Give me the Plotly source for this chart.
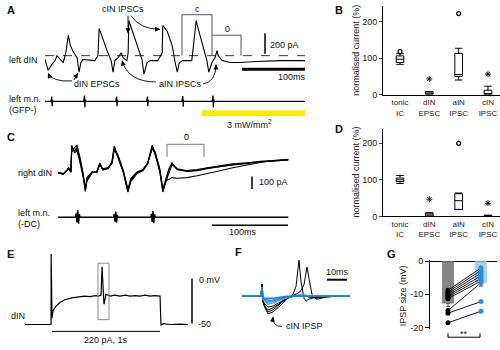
import math
import plotly.graph_objects as go

W, H = 500, 350
FONT = "Liberation Sans, Arial, sans-serif"

A_time = [0, 5, 11, 16, 19, 24, 29, 33, 37, 40, 44, 51, 54, 57, 60, 79, 84, 86, 90, 98,
          105, 108, 111, 116, 121, 124, 130, 132, 133, 138, 146, 154, 157, 162, 167, 179,
          186, 187, 194, 202, 206, 210, 213, 219, 233, 236, 240, 243, 251, 257, 260, 265,
          270, 273, 275, 281, 294, 309, 336, 373, 413]
A_current = [-36, -137, -82, -46, 0, -36, -64, 27, 191, 100, 46, -18, -155, -64, -36, -46, 0,
             255, 182, 55, -46, -155, -46, -18, 27, -18, -46, 27, 328, 237, 91, -36, -173,
             -64, -46, -46, 27, 282, 228, 91, -46, -155, -64, -46, -46, 118, 328, 255, 91,
             -46, -155, -64, -18, 46, 0, -46, -64, -64, -55, -46, -46]
A_mn_spike_times = [11, 63, 114, 163, 219, 267]
A_mn_spike_amp = [1.0, 1.2, 1.0, 1.0, 1.1, 1.2]
MN_dt = [-1.6, -0.8, -0.3, 0.3, 0.8, 1.6]
MN_shape = [0, 0.4, 1.0, -1.0, 0.3, 0]

B_cats = ["tonic<br>IC", "dIN<br>EPSC", "aIN<br>IPSC", "cIN<br>IPSC"]
B_q1 = [88, 1, 50, 0]
B_med = [97, 4, 55, 3]
B_q3 = [106, 8, 113, 12]
B_lo = [83, 0, 40, 0]
B_hi = [112, 8, 127, 23]
B_out_x = [0, 2]
B_out_y = [118, 222]
B_star_x = [1, 3]
B_star_y = [43, 56]

C_time = [0, 7, 12, 14, 17, 18, 22, 25, 29, 33, 36, 38, 45, 51, 55, 59, 66, 71, 74, 79, 86,
          92, 96, 104, 112, 118, 124, 128, 134, 138, 142, 146, 150, 157, 170, 183, 196, 213,
          230, 248, 266, 285, 303]
C_sweep1 = [0, -15, 23, 38, 8, 216, 154, 180, 77, -31, -146, -54, 8, 0, 77, 23, 38, 85, 200,
            123, 0, -154, -54, 0, 23, 77, 216, 139, 8, -154, -54, 23, 77, 23, 8, 15, 31, 46,
            62, 70, 85, 92, 100]
C_sweep2 = [0, -8, 15, 30, 0, 160, 200, 216, 120, 0, -130, -70, 0, 8, 60, 30, 40, 70, 190,
            140, 15, -140, -70, -8, 15, 70, 200, 160, 30, -140, -70, 0, 60, 30, 15, 23, 38,
            54, 70, 77, 85, 95, 100]
C_sweep3 = [0, -10, 20, 30, 10, 200, 170, 200, 90, -20, -150, -60, 0, 5, 70, 20, 30, 80, 210,
            130, 5, -150, -60, 0, 20, 70, 210, 150, 10, -150, -60, -54, -40, -45, -40, -25,
            -10, 15, 38, 60, 80, 95, 105]
C_sweep4 = [0, -12, 18, 35, 5, 180, 190, 170, 100, -10, -120, -40, 5, 0, 70, 25, 35, 75, 180,
            130, 10, -130, -45, 5, 25, 75, 190, 150, 20, -130, -50, 30, 70, 25, 12, 18, 35,
            50, 65, 75, 90, 98, 102]
C_mn_spike_times = [26, 76, 125]
C_mn_spike_amp = [1.1, 0.9, 1.0]
CMN_dt = [-3, -2, -1, 0, 1, 2, 3]
CMN_shape = [0, 0.6, -0.8, 1.1, -1.0, 0.5, 0]

D_q1 = [95, 1, 19, 0]
D_med = [100, 4, 43, 1]
D_q3 = [105, 9, 62, 3]
D_lo = [90, 0, 19, 0]
D_hi = [112, 10, 64, 3]
D_out_x = [2]
D_out_y = [200]
D_star_x = [1, 3]
D_star_y = [47, 36]

E_time = [-250, -9, -8, 0, 9, 37, 74, 120, 185, 259, 300, 352, 400, 426, 454, 463, 472, 481,
          500, 537, 580, 630, 680, 722, 770, 815, 860, 907, 950, 1000, 1009, 1028, 1100, 1180,
          1259]
E_vm = [-50, -50, 27, -43, -35, -30, -26, -23, -21, -20, -19, -19.5, -18.5, -19, -18, 13, -19,
        -28, -17, -19, -18, -19, -18, -19, -18.5, -19, -18, -19, -18.5, -19, -51, -49, -50,
        -49.5, -50]

F_time = [-10, -2, -0.5, 0, 0.5, 1.5, 3, 5.5, 9, 12.5, 15.5, 17, 18, 18.5, 19.5, 21, 22, 22.5,
          23.5, 25, 27, 29, 32, 36.5, 44]
F_black = [
    [0, 0, 0, 12, -6, -12, -18, -16, -10, -3, 2, 10, 30, 37, 15, -2, -5, -4, -3, -2, -1, -1, 0, 0, 0],
    [0, 0, 0, 12, -6, -11, -16, -14, -8, -2, 1, 2, 3, 4, 6, 12, 22, 30, 18, 2, -3, -2, -1, 0, 0],
    [0, 0, 0, 12, -5, -10, -14, -12, -7, -2, 0, 1, 1, 1, 1, 1, 0, 0, -1, -1, -2, -1, 0, 0, 0],
    [0, 0, 0, 12, -5, -8, -11, -10, -6, -2, 0, 0, 1, 1, 1, 1, 1, 0, 0, 0, -1, 0, 0, 0, 0],
]
F_blue = [
    [0, 0, 0, 9, -3, -5, -8, -7, -4, -1, 0, 0, 1, 1, 1, 1, 1, 0, 0, 0, 0, 0, 0, 0, 0],
    [0, 0, 0, 9, -3, -4, -6, -5, -3, -1, 0, 0, 0, 1, 1, 1, 0, 0, 0, 0, 0, 0, 0, 0, 0],
    [0, 0, 0, 9, -2, -3, -4, -4, -2, -1, 0, 0, 0, 0, 0, 0, 0, 0, 0, 0, 0, 0, 0, 0, 0],
    [0, 0, 0, 9, -2, -2, -2, -2, -1, 0, 0, 0, 0, 0, 0, 0, 0, 0, 0, 0, 0, 0, 0, 0, 0],
]
F_blue_colors = ["#5aaeea", "#3a9de6", "#2290e0", "#1b80d4"]

G_bar = [-12.8, -6.6]
G_err = [0.9, 0.9]
G_control = [-8.8, -9.3, -9.8, -10.3, -10.8, -11.3, -14.9, -15.7, -18.6]
G_light = [-2.0, -2.8, -3.6, -4.4, -5.2, -6.0, -6.5, -12.2, -15.1]
G_ticks = [0, -10, -20]
G_ticklabels = ["0", "-10", "-20"]


def px_x(a, b):
    return [a / W, b / W]


def px_y(top, bottom):
    return [1 - bottom / H, 1 - top / H]


fig = go.Figure()


def line(x, y, ax, color="black", width=1.1):
    fig.add_trace(go.Scatter(x=x, y=y, mode="lines", line=dict(color=color, width=width),
                             xaxis="x" + ax, yaxis="y" + ax, hoverinfo="skip"))


def build_mn(times, amps, dt, shape, t_end):
    xs, ys = [0], [0]
    for st, a in zip(times, amps):
        for d, v in zip(dt, shape):
            xs.append(st + d)
            ys.append(a * v)
    xs.append(t_end)
    ys.append(0)
    return xs, ys


line(A_time, A_current, "", width=1.1)
mx, my = build_mn(A_mn_spike_times, A_mn_spike_amp, MN_dt, MN_shape, 413)
line(mx, my, "2", width=1.3)

for ax, q1, med, q3, lo, hi, ox, oy, sx, sy in [
        ("3", B_q1, B_med, B_q3, B_lo, B_hi, B_out_x, B_out_y, B_star_x, B_star_y),
        ("6", D_q1, D_med, D_q3, D_lo, D_hi, D_out_x, D_out_y, D_star_x, D_star_y)]:
    fig.add_trace(go.Box(x=[0, 1, 2, 3], q1=q1, median=med, q3=q3, lowerfence=lo,
                         upperfence=hi, width=0.26, whiskerwidth=1, boxpoints=False,
                         line=dict(color="black", width=1), fillcolor="white",
                         xaxis="x" + ax, yaxis="y" + ax, hoverinfo="skip"))
    fig.add_trace(go.Scatter(x=ox, y=oy, mode="markers",
                             marker=dict(symbol="circle-open", size=4, color="black",
                                         line=dict(width=1.2, color="black")),
                             xaxis="x" + ax, yaxis="y" + ax, hoverinfo="skip"))
    fig.add_trace(go.Scatter(x=sx, y=sy, mode="markers",
                             marker=dict(symbol="asterisk-open", size=5, color="black",
                                         line=dict(width=0.9, color="black")),
                             xaxis="x" + ax, yaxis="y" + ax, hoverinfo="skip"))

for sw in [C_sweep1, C_sweep2, C_sweep3, C_sweep4]:
    line(C_time, sw, "4", width=1.1)
cx, cy = build_mn(C_mn_spike_times, C_mn_spike_amp, CMN_dt, CMN_shape, 303)
line(cx, cy, "5", width=1.5)

line(E_time, E_vm, "7", width=1.2)

for tr in F_black:
    line(F_time, tr, "8", width=1.0)
for tr, c in zip(F_blue, F_blue_colors):
    line(F_time, tr, "8", color=c, width=1.6)

fig.add_trace(go.Bar(x=[0, 1], y=G_bar, width=0.36,
                     marker=dict(color=["#858585", "#a6d0f2"], line=dict(width=0)),
                     error_y=dict(type="data", symmetric=False, array=[0, 0],
                                  arrayminus=G_err, color="#555", thickness=1, width=2),
                     xaxis="x9", yaxis="y9", hoverinfo="skip"))
for c, l in zip(G_control, G_light):
    fig.add_trace(go.Scatter(x=[0, 1], y=[c, l], mode="lines+markers",
                             line=dict(color="black", width=0.9),
                             marker=dict(size=5, color=["black", "#2a8edb"]),
                             xaxis="x9", yaxis="y9", hoverinfo="skip"))

fig.add_trace(go.Scatter(x=[None], y=[None], xaxis="x10", yaxis="y10", hoverinfo="skip"))

hidden = dict(visible=False, showgrid=False, zeroline=False, fixedrange=True)
axcol = dict(showline=True, linecolor="black", linewidth=1, showgrid=False, zeroline=False,
             fixedrange=True)

layout = dict(
    width=W, height=H, margin=dict(l=0, r=0, t=0, b=0), showlegend=False,
    paper_bgcolor="white", plot_bgcolor="rgba(0,0,0,0)",
    font=dict(family=FONT, size=9, color="#222"),
    xaxis=dict(hidden, domain=px_x(45, 305), range=[0, 412.7], anchor="y"),
    yaxis=dict(hidden, domain=px_y(5, 75), range=[-200, 437], anchor="x"),
    xaxis2=dict(hidden, domain=px_x(45, 305), range=[0, 412.7], anchor="y2"),
    yaxis2=dict(hidden, domain=px_y(90, 110), range=[-2, 2], anchor="x2"),
    xaxis3=dict(axcol, domain=px_x(383, 500), range=[-0.58, 3.41], anchor="y3", ticks="",
                tickvals=[0, 1, 2, 3], ticktext=B_cats, tickfont=dict(size=8)),
    yaxis3=dict(axcol, domain=px_y(2, 93), range=[0, 243], anchor="x3", ticks="outside",
                ticklen=3, tickvals=[0, 100, 200], tickfont=dict(size=9)),
    xaxis4=dict(hidden, domain=px_x(58, 290), range=[0, 305.3], anchor="y4"),
    yaxis4=dict(hidden, domain=px_y(135, 200), range=[-208, 293], anchor="x4"),
    xaxis5=dict(hidden, domain=px_x(58, 290), range=[0, 305.3], anchor="y5"),
    yaxis5=dict(hidden, domain=px_y(209, 229), range=[-1.67, 1.67], anchor="x5"),
    xaxis6=dict(axcol, domain=px_x(383, 500), range=[-0.58, 3.41], anchor="y6", ticks="",
                tickvals=[0, 1, 2, 3], ticktext=B_cats, tickfont=dict(size=8)),
    yaxis6=dict(axcol, domain=px_y(128, 218), range=[0, 240], anchor="x6", ticks="outside",
                ticklen=3, tickvals=[0, 100, 200], tickfont=dict(size=9)),
    xaxis7=dict(hidden, domain=px_x(25, 200), range=[-250, 1370], anchor="y7"),
    yaxis7=dict(hidden, domain=px_y(250, 350), range=[-72.4, 34], anchor="x7"),
    xaxis8=dict(hidden, domain=px_x(240, 352), range=[-11, 45], anchor="y8"),
    yaxis8=dict(hidden, domain=px_y(255, 335), range=[-35, 45], anchor="x8"),
    xaxis9=dict(domain=px_x(430, 497), range=[-0.545, 1.485], anchor="y9",
                showline=False, showgrid=False, zeroline=False, ticks="",
                showticklabels=False, fixedrange=True),
    yaxis9=dict(axcol, domain=px_y(263, 334), range=[-20.6, 0.3], anchor="x9",
                ticks="outside", ticklen=4, tickwidth=1, tickcolor="black",
                tickmode="array", tickvals=G_ticks, ticktext=G_ticklabels,
                showticklabels=True, tickfont=dict(size=9, color="#111"),
                zeroline=True, zerolinecolor="black", zerolinewidth=1),
    xaxis10=dict(hidden, domain=[0, 1], range=[0, W], anchor="y10"),
    yaxis10=dict(hidden, domain=[0, 1], range=[H, 0], anchor="x10"),
)

shapes = []
shapes.append(dict(type="line", xref="x", yref="y", x0=0, x1=412.7, y0=0, y1=0,
                   line=dict(color="black", width=0.8, dash="dash")))


def pxline(x0, y0, x1, y1, w=1.5, color="black"):
    shapes.append(dict(type="line", xref="x10", yref="y10", x0=x0, y0=y0, x1=x1, y1=y1,
                       line=dict(color=color, width=w)))


def pxpath(path, w=1, color="black"):
    shapes.append(dict(type="path", xref="x10", yref="y10", path=path,
                       line=dict(color=color, width=w)))


pxline(265, 30, 265, 51, 1.5)
pxline(242, 67, 305, 67, 3)
pxline(252, 177, 252, 190, 1.5)
pxline(212, 227, 288, 227, 1.5)
pxline(192, 282, 192, 328, 1.5)
pxline(52, 336, 160, 336, 1)
pxline(327, 283, 347, 283, 2)
pxpath("M182,53 L182,11 L212,11 L212,53", 1, "#555")
pxpath("M212,32 L241,32 L241,53", 1, "#555")
pxpath("M167,157 L167,144 L204,144 L204,157", 1, "#777")
pxpath("M448,338 L448,342 L480,342 L480,338", 1, "black")
shapes.append(dict(type="rect", xref="x10", yref="y10", x0=98, x1=109, y0=266, y1=324,
                   line=dict(color="#888", width=1)))
shapes.append(dict(type="rect", xref="x10", yref="y10", x0=202, x1=305, y0=109, y1=115,
                   fillcolor="#fbe90c", line=dict(width=0)))

annotations = []
curves = [
    (128, 12, 128, 20, 128, 30),
    (131, 12, 140, 26, 160, 26),
    (72, 79, 52, 80, 48, 71),
    (74, 78, 76, 74, 78, 71),
    (156, 80, 128, 80, 122, 58),
    (203, 82, 216, 80, 216, 62),
    (282, 331, 272, 331, 273, 321),
]
for x0, y0, qx, qy, x1, y1 in curves:
    pxpath(f"M{x0},{y0} Q{qx},{qy} {x1},{y1}", 0.9, "black")
    dx, dy = x1 - qx, y1 - qy
    n = math.hypot(dx, dy) or 1
    annotations.append(dict(xref="x10", yref="y10", axref="x10", ayref="y10", x=x1, y=y1,
                            ax=x1 - 4 * dx / n, ay=y1 - 4 * dy / n, text="", showarrow=True,
                            arrowhead=2, arrowsize=1, arrowwidth=1, arrowcolor="black",
                            standoff=0))

texts = [
    ("<b>A</b>", 5, 6, "left", 11), ("<b>B</b>", 333, 6, "left", 11),
    ("<b>C</b>", 5, 136, "left", 11), ("<b>D</b>", 333, 128, "left", 11),
    ("<b>E</b>", 5, 257, "left", 11), ("<b>F</b>", 233, 255, "left", 11),
    ("<b>G</b>", 385, 257, "left", 11),
    ("cIN IPSCs", 123, 5, "center", 9), ("c", 197, 5, "center", 9),
    ("0", 227, 26, "center", 9), ("left dIN", 7, 57, "left", 9),
    ("200 pA", 268, 42, "left", 9), ("100ms", 292, 75, "center", 9),
    ("dIN EPSCs", 97, 82, "center", 9), ("aIN IPSCs", 180, 82, "center", 9),
    ("left m.n.", 7, 98, "left", 9), ("(GFP-)", 7, 109, "left", 9),
    ("3 mW/mm<sup>2</sup>", 249, 123, "center", 9),
    ("right dIN", 16, 173, "left", 9), ("0", 186, 137, "center", 9),
    ("100 pA", 257, 183, "left", 9), ("left m.n.", 16, 215, "left", 9),
    ("(-DC)", 16, 226, "left", 9), ("100ms", 243, 234, "center", 9),
    ("dIN", 9, 320, "left", 9), ("0 mV", 197, 283, "left", 9),
    ("-50", 196, 328, "left", 9), ("220 pA, 1s", 106, 345, "center", 9),
    ("10ms", 337, 275, "center", 9), ("cIN IPSP", 284, 331, "left", 9),
    ("**", 464, 339, "center", 9),
]
for t, x, y, anc, size in texts:
    annotations.append(dict(xref="x10", yref="y10", x=x, y=y, text=t, showarrow=False,
                            xanchor=anc, yanchor="middle", font=dict(size=size, color="#111")))
for t, x, y in [("normalised current (%)", 356, 48), ("normalised current (%)", 356, 173),
                ("IPSP size (mV)", 403, 300)]:
    annotations.append(dict(xref="x10", yref="y10", x=x, y=y, text=t, showarrow=False,
                            textangle=-90, xanchor="center", yanchor="middle",
                            font=dict(size=9, color="#222")))

layout["shapes"] = shapes
layout["annotations"] = annotations
fig.update_layout(**layout)
fig.write_html("out.html")
